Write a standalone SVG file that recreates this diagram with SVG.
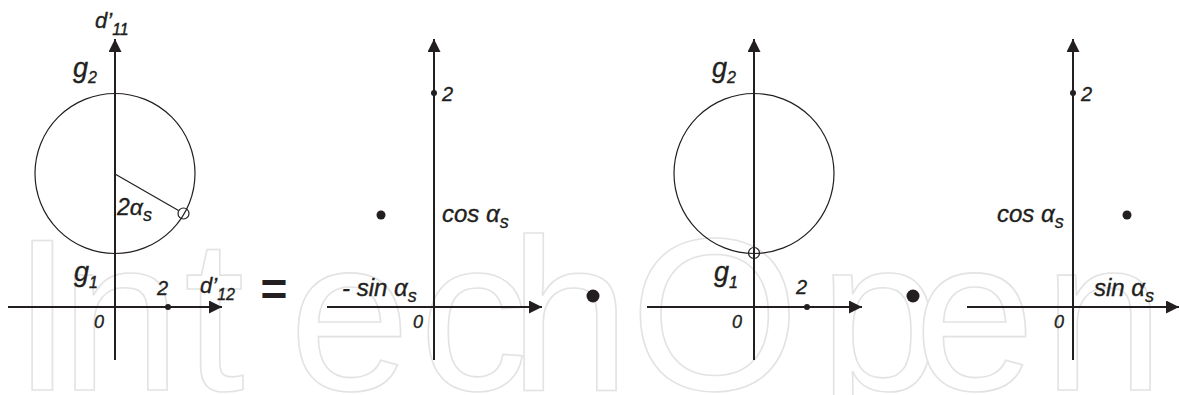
<svg xmlns="http://www.w3.org/2000/svg" width="1179" height="395" viewBox="0 0 1179 395">
<defs>
<style>
.wm{font-family:"Liberation Sans",Arial,sans-serif;font-size:218px;fill:#fff;stroke:#e3e3e3;stroke-width:1.6}
.ax{stroke:#231f20;stroke-width:2;fill:none}
.thin{stroke:#231f20;stroke-width:1.2;fill:none}
.t{font-family:"Liberation Sans",Arial,sans-serif;font-style:italic;fill:#231f20;stroke:#231f20;stroke-width:0.35}
.lg{font-size:24px}
.gg{font-size:27px}
.sb{font-size:18px}
.gs{font-size:16px}
.num{font-size:20px}
.zero{font-size:18px}
.dot{fill:#231f20}
</style>
<marker id="ah" markerUnits="userSpaceOnUse" markerWidth="14" markerHeight="13" refX="13" refY="6.5" orient="auto">
<path d="M0,0 L13,6.5 L0,13 z" fill="#231f20"/>
</marker>
</defs>
<rect width="1179" height="395" fill="#fff"/>
<text class="wm" x="12 60 184 289 419 509 630 819 914 1043" y="390">IntechOpen</text>

<g id="connectors">
<line class="ax" x1="115" y1="360" x2="115" y2="39" marker-end="url(#ah)"/>
<line class="ax" x1="8" y1="307" x2="222" y2="307" marker-end="url(#ah)"/>
<line class="ax" x1="434" y1="360" x2="434" y2="39" marker-end="url(#ah)"/>
<line class="ax" x1="327" y1="307" x2="542" y2="307" marker-end="url(#ah)"/>
<line class="ax" x1="754" y1="360" x2="754" y2="39" marker-end="url(#ah)"/>
<line class="ax" x1="647" y1="307" x2="862" y2="307" marker-end="url(#ah)"/>
<line class="ax" x1="1073" y1="360" x2="1073" y2="39" marker-end="url(#ah)"/>
<line class="ax" x1="967" y1="307" x2="1179" y2="307" marker-end="url(#ah)"/>
</g>

<g id="panel1">
<circle class="thin" cx="115" cy="173.5" r="80"/>
<line class="thin" x1="115" y1="174" x2="178.5" y2="210.5"/>
<circle class="thin" cx="183.5" cy="213.5" r="5.5"/>
<text class="t" x="95" y="28" font-size="22">d’<tspan font-size="16" dy="7">11</tspan></text>
<text class="t gg" x="73" y="77">g<tspan class="gs" dy="6">2</tspan></text>
<text class="t" x="117" y="215" font-size="23">2α<tspan class="sb" dy="6">s</tspan></text>
<text class="t gg" x="74" y="281">g<tspan class="gs" dy="7">1</tspan></text>
<text class="t num" x="157" y="295">2</text>
<circle class="dot" cx="168" cy="307" r="3"/>
<text class="t" x="200" y="293" font-size="22">d’<tspan font-size="16" dy="7">12</tspan></text>
<text class="t zero" x="94" y="328">0</text>
</g>

<g id="equals">
<text x="274" y="305" font-family="Liberation Sans,Arial,sans-serif" font-weight="bold" font-size="46" text-anchor="middle" fill="#231f20">=</text>
</g>

<g id="panel2">
<circle class="dot" cx="434" cy="93" r="3"/>
<text class="t num" x="442" y="101">2</text>
<circle class="dot" cx="381" cy="215" r="4.5"/>
<text class="t lg" x="442" y="222">cos α<tspan class="sb" dy="6">s</tspan></text>
<text class="t lg" x="342" y="296">- sin α<tspan class="sb" dy="6">s</tspan></text>
<text class="t zero" x="413" y="328">0</text>
</g>

<g id="dot1"><circle class="dot" cx="593" cy="296" r="6.5"/></g>

<g id="panel3">
<circle class="thin" cx="754" cy="173.5" r="80"/>
<circle class="thin" cx="754" cy="253" r="5.5"/>
<text class="t gg" x="712" y="77">g<tspan class="gs" dy="6">2</tspan></text>
<text class="t gg" x="714" y="281">g<tspan class="gs" dy="7">1</tspan></text>
<text class="t num" x="796" y="294">2</text>
<circle class="dot" cx="807" cy="307" r="3"/>
<text class="t zero" x="732" y="328">0</text>
</g>

<g id="dot2"><circle class="dot" cx="913" cy="296" r="6.5"/></g>

<g id="panel4">
<circle class="dot" cx="1073" cy="93" r="3"/>
<text class="t num" x="1081" y="101">2</text>
<text class="t lg" x="997" y="222">cos α<tspan class="sb" dy="6">s</tspan></text>
<circle class="dot" cx="1127" cy="215" r="4.5"/>
<text class="t lg" x="1094" y="296">sin α<tspan class="sb" dy="6">s</tspan></text>
<text class="t zero" x="1054" y="328">0</text>
</g>
</svg>
